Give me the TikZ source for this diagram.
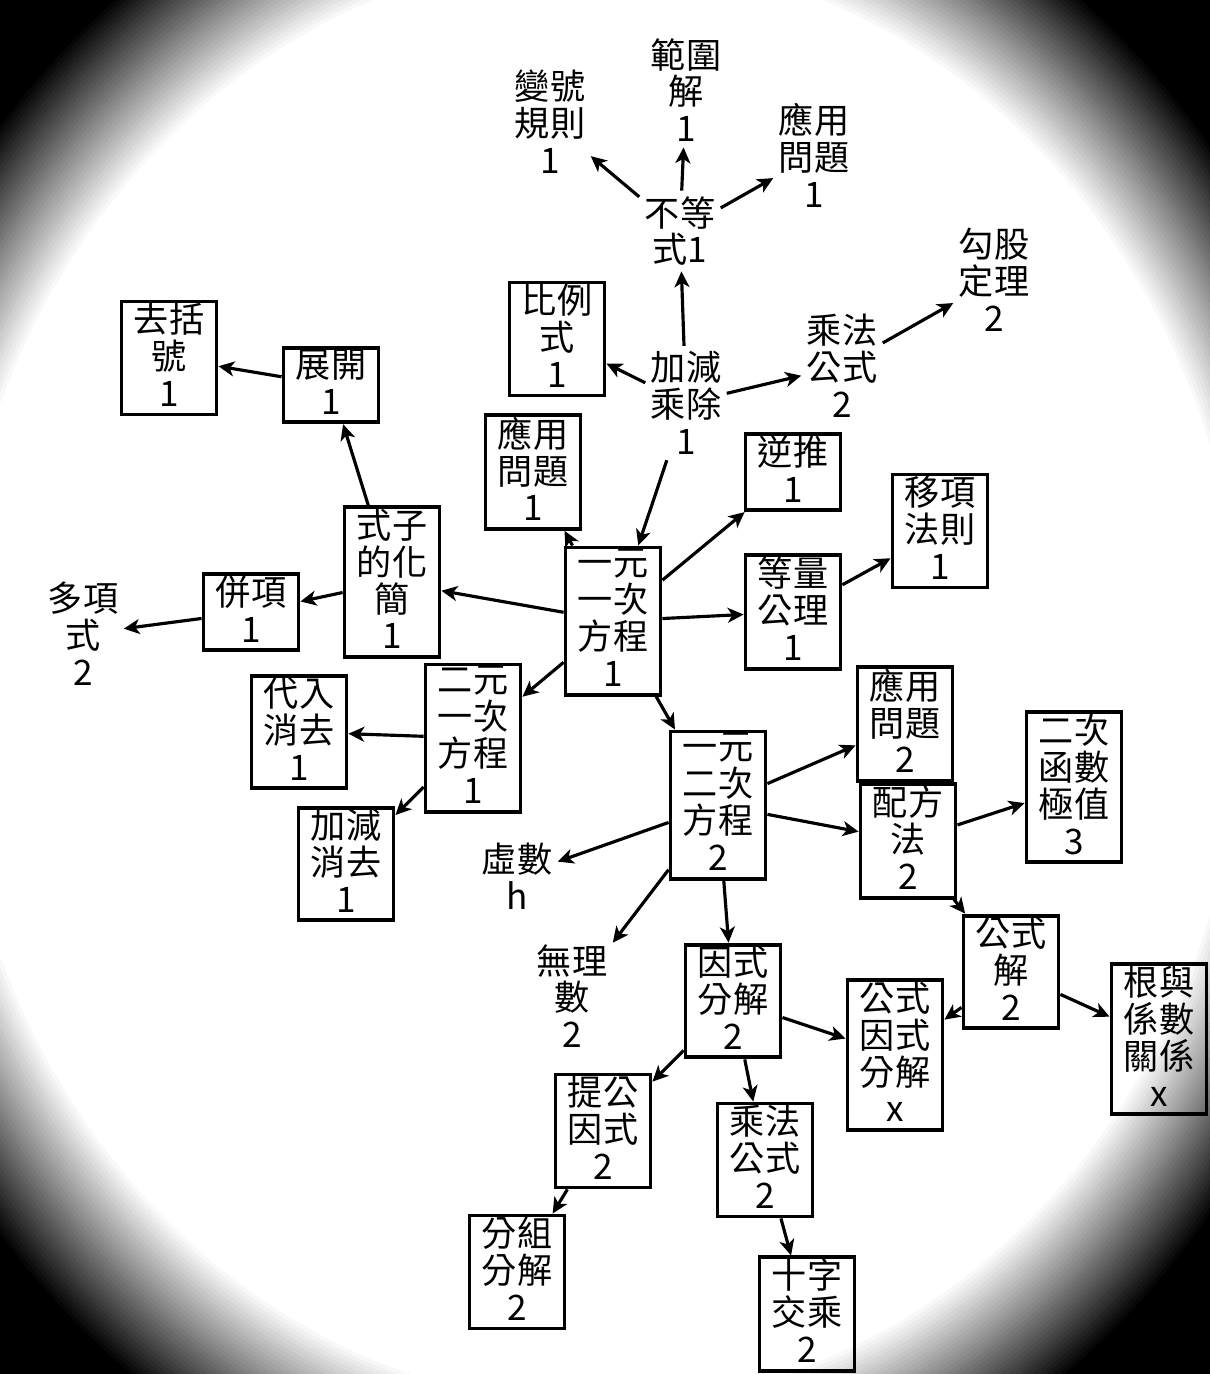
\documentclass[tikz,border=0pt]{standalone}
\usepackage{fontspec}
\setmainfont{Noto Sans CJK TC}
\usetikzlibrary{arrows.meta}

\begin{document}
\begin{tikzpicture}[x=0.02cm,y=-0.02cm,>={Stealth[length=9pt,width=8.5pt,inset=2.5pt]}]
  \useasboundingbox (0,0) rectangle (1210,1374);
  % vignette
  \begin{scope}
    \clip (0,0) rectangle (1210,1374);
    \fill[black] (0,0) rectangle (1210,1374);
    \foreach \i in {0,...,36}
    {
      \pgfmathsetmacro{\r}{1.06-\i*0.005}
      \pgfmathsetmacro{\p}{100-\i*100/36}
      \fill[black!\p!white] (598,680) ellipse [x radius=\r*14.7cm, y radius=\r*16.48cm];
    }
  \end{scope}
  \begin{scope}[font=\fontsize{20pt}{21pt}\selectfont]
    \tikzstyle{topic_box}=[draw,line width=2.2pt,align=center,minimum width=1.9cm,inner xsep=2pt,inner ysep=1pt,text depth=3.5pt]
    \tikzstyle{topic_text}=[align=center,inner sep=3pt]
    \tikzstyle{every edge}=[draw,->,line width=1.8pt]
    % plain topics
    \node[topic_text] (sign) at (550,122) {變號\\規則\\1};
    \node[topic_text] (range) at (686,90) {範圍\\解\\1};
    \node[topic_text] (ineqapp) at (814,155) {應用\\問題\\1};
    \node[topic_text] (ineq) at (680,231) {不等\\式1};
    \node[topic_text] (pyth) at (994,280) {勾股\\定理\\2};
    \node[topic_text] (mulrule) at (842,366) {乘法\\公式\\2};
    \node[topic_text] (arith) at (686,403) {加減\\乘除\\1};
    \node[topic_text] (poly) at (83,634) {多項\\式\\2};
    \node[topic_text] (imag) at (517,876) {虛數\\h};
    \node[topic_text] (irr) at (572,996) {無理\\數\\2};
    % boxed topics
    \node[topic_box] (brack) at (169,358) {去括\\號\\1};
    \node[topic_box] (expand) at (331,385) {展開\\1};
    \node[topic_box] (ratio) at (557,339) {比例\\式\\1};
    \node[topic_box] (app1) at (533,472) {應用\\問題\\1};
    \node[topic_box] (simp) at (392,582) {式子\\的化\\簡\\1};
    \node[topic_box] (combine) at (251,612) {併項\\1};
    \node[topic_box] (lin1) at (613,621) {一元\\一次\\方程\\1};
    \node[topic_box] (back) at (793,472) {逆推\\1};
    \node[topic_box] (move) at (940,531) {移項\\法則\\1};
    \node[topic_box] (equal) at (793,612) {等量\\公理\\1};
    \node[topic_box] (lin2) at (473,738) {二元\\一次\\方程\\1};
    \node[topic_box] (subst) at (299,732) {代入\\消去\\1};
    \node[topic_box] (elim) at (346,864) {加減\\消去\\1};
    \node[topic_box] (quad) at (718,805) {一元\\二次\\方程\\2};
    \node[topic_box] (app2) at (905,724) {應用\\問題\\2};
    \node[topic_box] (square) at (908,841) {配方\\法\\2};
    \node[topic_box] (qmax) at (1074,787) {二次\\函數\\極值\\3};
    \node[topic_box] (formula) at (1011,972) {公式\\解\\2};
    \node[topic_box] (ffact) at (895,1055) {公式\\因式\\分解\\x};
    \node[topic_box] (vieta) at (1159,1039) {根與\\係數\\關係\\x};
    \node[topic_box] (fact) at (733,1001) {因式\\分解\\2};
    \node[topic_box] (common) at (603,1131) {提公\\因式\\2};
    \node[topic_box] (mulbox) at (765,1160) {乘法\\公式\\2};
    \node[topic_box] (group) at (517,1272) {分組\\分解\\2};
    \node[topic_box] (cross) at (807,1314) {十字\\交乘\\2};
    % arrows
    \path (ineq) edge (sign);
    \path (ineq) edge (range);
    \path (ineq) edge (ineqapp);
    \path (arith) edge (ineq);
    \path (arith) edge (ratio);
    \path (arith) edge (mulrule);
    \path (mulrule) edge (pyth);
    \path (arith) edge (lin1);
    \path (lin1) edge (app1);
    \path (lin1) edge (back);
    \path (lin1) edge (equal);
    \path (equal) edge (move);
    \path (lin1) edge (simp);
    \path (simp) edge (expand);
    \path (expand) edge (brack);
    \path (simp) edge (combine);
    \path (combine) edge (poly);
    \path (lin1) edge (lin2);
    \path (lin2) edge (subst);
    \path (lin2) edge (elim);
    \path (lin1) edge (quad);
    \path (quad) edge (app2);
    \path (quad) edge (square);
    \path (square) edge (qmax);
    \path (square) edge (formula);
    \path (formula) edge (ffact);
    \path (formula) edge (vieta);
    \path (quad) edge (imag);
    \path (quad) edge (irr);
    \path (quad) edge (fact);
    \path (fact) edge (ffact);
    \path (fact) edge (common);
    \path (fact) edge (mulbox);
    \path (common) edge (group);
    \path (mulbox) edge (cross);
  \end{scope}
\end{tikzpicture}
\end{document}
